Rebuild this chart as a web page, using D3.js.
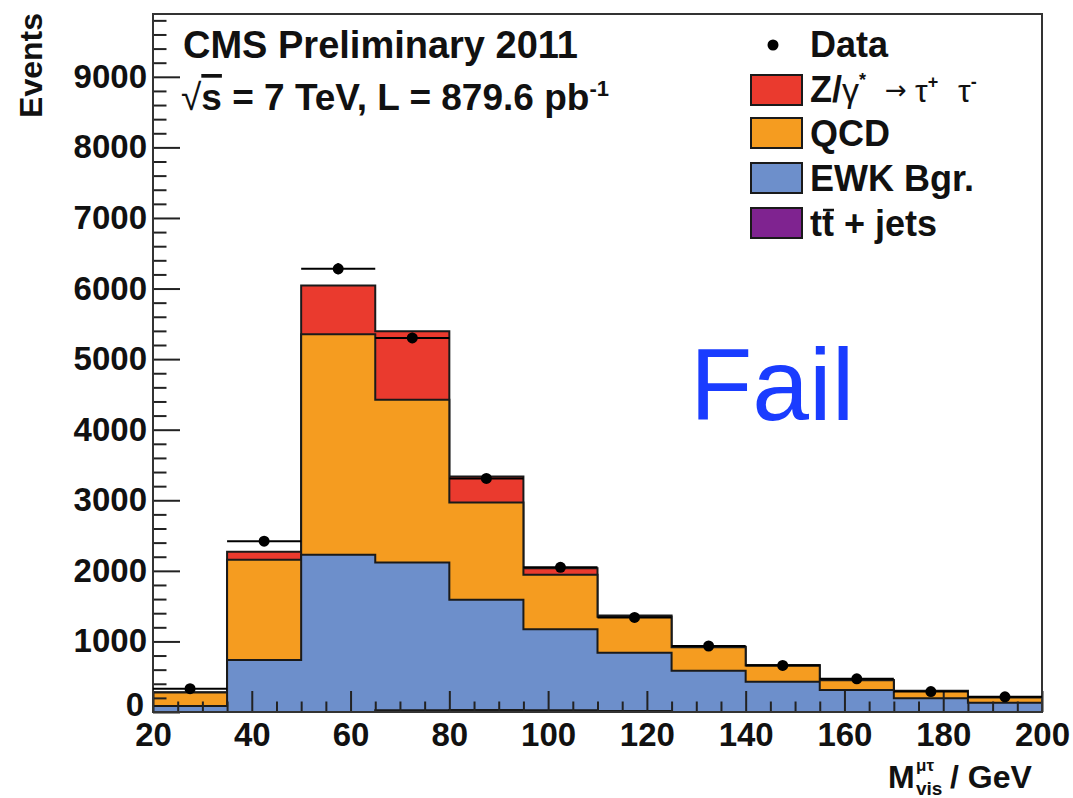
<!DOCTYPE html>
<html>
<head>
<meta charset="utf-8">
<script src="https://cdn.jsdelivr.net/npm/d3@7"></script>
<style>
  html, body { margin: 0; padding: 0; background: #fff; }
  text { font-family: "Liberation Sans", Arial, Helvetica, sans-serif; }
</style>
</head>
<body>
<svg id="chart" width="1073" height="798"></svg>
<script>
// ---- data ----
const binLow  = [20, 35, 50, 65, 80, 95, 110, 125, 140, 155, 170, 185];
const binHigh = [35, 50, 65, 80, 95, 110, 125, 140, 155, 170, 185, 200];
const ttbar = [0, 0, 0, 25, 30, 25, 15, 0, 0, 0, 0, 0];
const ewk   = [85, 738, 2227, 2093, 1559, 1148, 826, 586, 430, 312, 194, 132];
const qcd   = [190, 1418, 3125, 2308, 1380, 770, 510, 330, 230, 137, 105, 74];
const ztt   = [5, 116, 691, 968, 369, 95, 15, 10, 7, 5, 3, 2];
const data  = [330, 2420, 6280, 5300, 3310, 2050, 1340, 935, 660, 470, 290, 215];
const xTicks = [20, 40, 60, 80, 100, 120, 140, 160, 180, 200];
const yTicks = [0, 1000, 2000, 3000, 4000, 5000, 6000, 7000, 8000, 9000];
const legendLabels = ["Data", "Z/γ*", "QCD", "EWK Bgr.", "tt + jets"];

// ---- layout ----
const W = 1073, H = 798;
const m = {left: 153, right: 31, top: 14, bottom: 86};
const pw = W - m.left - m.right, ph = H - m.top - m.bottom;
const col = {z: "#ea3a2e", qcd: "#f59c20", ewk: "#6d8fcb", tt: "#7f2390"};

const svg = d3.select("#chart");
svg.append("rect").attr("width", W).attr("height", H).attr("fill", "#fff");
const g = svg.append("g").attr("transform", `translate(${m.left},${m.top})`);

const x = d3.scaleLinear().domain([20, 200]).range([0, pw]);
const y = d3.scaleLinear().domain([0, 9890]).range([ph, 0]);

// cumulative stacks
const cTT = ttbar.slice();
const cEWK = cTT.map((v, i) => v + ewk[i]);
const cQCD = cEWK.map((v, i) => v + qcd[i]);
const cZ = cQCD.map((v, i) => v + ztt[i]);

const line = d3.line().x(d => x(d[0])).y(d => y(d[1]));
function stepPts(vals) {
  const pts = [[binLow[0], 0]];
  vals.forEach((v, i) => { pts.push([binLow[i], v]); pts.push([binHigh[i], v]); });
  pts.push([binHigh[binHigh.length - 1], 0]);
  return pts;
}
[[cZ, col.z], [cQCD, col.qcd], [cEWK, col.ewk], [cTT, col.tt]].forEach(([vals, c]) => {
  g.append("path").attr("d", line(stepPts(vals)) + "Z")
    .attr("fill", c).attr("stroke", "#1a1a1a").attr("stroke-width", 2)
    .attr("stroke-linejoin", "miter");
});

// axes (ticks pointing inward)
const xMinor = d3.range(20, 201, 5).filter(v => !xTicks.includes(v));
const yMinor = d3.range(0, 9890, 200).filter(v => !yTicks.includes(v));
const axStyle = sel => {
  sel.select(".domain").remove();
  sel.selectAll("line").attr("stroke", "#222").attr("stroke-width", 2);
  sel.selectAll("text").attr("font-size", 33).attr("font-weight", "bold").attr("fill", "#111");
};
g.append("g").attr("transform", `translate(0,${ph})`)
  .call(d3.axisBottom(x).tickValues(xMinor).tickSize(-10.5).tickFormat(""))
  .call(axStyle);
g.append("g").attr("transform", `translate(0,${ph})`)
  .call(d3.axisBottom(x).tickValues(xTicks).tickSize(-21).tickPadding(11).tickFormat(d3.format("d")))
  .call(axStyle);
g.append("g")
  .call(d3.axisLeft(y).tickValues(yMinor).tickSize(-13.5).tickFormat(""))
  .call(axStyle);
const yAx = g.append("g")
  .call(d3.axisLeft(y).tickValues(yTicks).tickSize(-27).tickPadding(6).tickFormat(d3.format("d")))
  .call(axStyle);
// the zero label sits slightly higher and to the left, as in the reference
yAx.selectAll(".tick").filter(d => d === 0).select("text").attr("dy", "0.1em").attr("x", -9);

// frame
g.append("rect").attr("width", pw).attr("height", ph)
  .attr("fill", "none").attr("stroke", "#333").attr("stroke-width", 2);

// data points
const dp = g.append("g");
data.forEach((v, i) => {
  const cx = x((binLow[i] + binHigh[i]) / 2), cy = y(v), e = Math.sqrt(v);
  dp.append("line").attr("x1", x(binLow[i])).attr("x2", x(binHigh[i]))
    .attr("y1", cy).attr("y2", cy).attr("stroke", "#000").attr("stroke-width", 2);
  dp.append("line").attr("x1", cx).attr("x2", cx)
    .attr("y1", y(v + e)).attr("y2", y(v - e)).attr("stroke", "#000").attr("stroke-width", 2);
  dp.append("circle").attr("cx", cx).attr("cy", cy).attr("r", 5.5).attr("fill", "#000");
});

// titles
svg.append("text").attr("x", 183).attr("y", 58).attr("font-size", 38).attr("font-weight", "bold")
  .attr("fill", "#111").text("CMS Preliminary 2011");
const t2 = svg.append("text").attr("x", 181).attr("y", 110).attr("font-size", 37)
  .attr("font-weight", "bold").attr("fill", "#111");
t2.append("tspan").attr("font-weight", "normal").text("√");
t2.append("tspan").attr("text-decoration", "overline").text("s");
t2.append("tspan").text(" = 7 TeV, L = 879.6 pb");
t2.append("tspan").attr("font-size", 22).attr("dy", -14).text("-1");

// y title
svg.append("text").attr("transform", "translate(42,13) rotate(-90)")
  .attr("text-anchor", "end").attr("font-size", 32).attr("font-weight", "bold")
  .attr("fill", "#111").text("Events");

// x title
svg.append("text").attr("x", 888).attr("y", 788).attr("font-size", 32)
  .attr("font-weight", "bold").attr("fill", "#111").text("M");
svg.append("text").attr("x", 916).attr("y", 771).attr("font-size", 17).attr("font-weight", "bold")
  .attr("fill", "#111").text("μτ");
svg.append("text").attr("x", 916).attr("y", 795).attr("font-size", 19).attr("font-weight", "bold")
  .attr("fill", "#111").text("vis");
svg.append("text").attr("x", 950).attr("y", 788).attr("font-size", 32).attr("font-weight", "bold")
  .attr("fill", "#111").text("/ GeV");

// legend
const lg = svg.append("g");
lg.append("circle").attr("cx", 773).attr("cy", 45).attr("r", 5.5).attr("fill", "#000");
lg.append("text").attr("x", 810).attr("y", 57).attr("font-size", 36).attr("font-weight", "bold")
  .attr("fill", "#111").text(legendLabels[0]);
const boxes = [[col.z, 75], [col.qcd, 118], [col.ewk, 163], [col.tt, 208]];
boxes.forEach(([c, yy]) => {
  lg.append("rect").attr("x", 751).attr("y", yy).attr("width", 51).attr("height", 30)
    .attr("fill", c).attr("stroke", "#1a1a1a").attr("stroke-width", 2);
});
const zt = lg.append("text").attr("y", 102).attr("font-size", 36)
  .attr("font-weight", "bold").attr("fill", "#111");
zt.append("tspan").attr("x", 810).text("Z/");
zt.append("tspan").attr("font-weight", "normal").attr("font-size", 34).text("γ");
zt.append("tspan").attr("font-size", 18).attr("dy", -16).text("*");
zt.append("tspan").attr("x", 885).attr("font-weight", "normal").attr("font-size", 26)
  .attr("font-family", "'DejaVu Sans', sans-serif").attr("dy", 13).text("→");
zt.append("tspan").attr("x", 915).attr("font-weight", "normal").attr("font-size", 32).attr("dy", 3).text("τ");
zt.append("tspan").attr("font-size", 18).attr("dy", -14).text("+");
zt.append("tspan").attr("x", 958).attr("font-weight", "normal").attr("font-size", 32).attr("dy", 14).text("τ");
zt.append("tspan").attr("font-size", 18).attr("dy", -14).text("-");
lg.append("text").attr("x", 810).attr("y", 146).attr("font-size", 36).attr("font-weight", "bold")
  .attr("fill", "#111").text(legendLabels[2]);
lg.append("text").attr("x", 810).attr("y", 191).attr("font-size", 36).attr("font-weight", "bold")
  .attr("fill", "#111").text(legendLabels[3]);
lg.append("text").attr("x", 810).attr("y", 236).attr("font-size", 36)
  .attr("font-weight", "bold").attr("fill", "#111").text(legendLabels[4]);
// bar over the second t (t-bar)
lg.append("line").attr("x1", 823).attr("x2", 834).attr("y1", 210).attr("y2", 210)
  .attr("stroke", "#111").attr("stroke-width", 2.5);

// Fail annotation
svg.append("text").attr("x", 690).attr("y", 420).attr("font-size", 102)
  .attr("fill", "#1a3cff").text("Fail");
</script>
</body>
</html>
